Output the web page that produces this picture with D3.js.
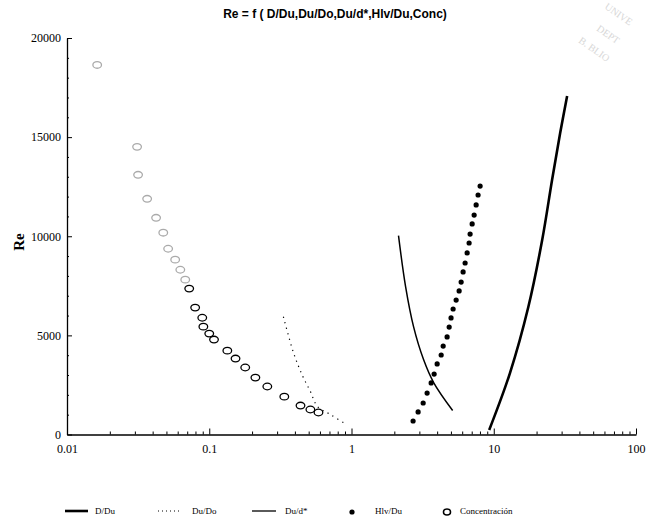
<!DOCTYPE html>
<html>
<head>
<meta charset="utf-8">
<script src="https://cdn.jsdelivr.net/npm/d3@7"></script>
<style>
  body { margin: 0; background: #fff; }
  svg { display: block; }
</style>
</head>
<body>
<div id="chart"></div>
<script>
// series values (x on a log axis, Re linear)
const dDu = [[9.29, 230], [13.0, 3100], [17.5, 6430], [21.9, 9810], [25.7, 12840], [29.3, 15210], [32.8, 17070]];
const duDo = [[0.332, 5940], [0.391, 4130], [0.452, 2970], [0.514, 2170], [0.577, 1410], [0.711, 1010], [0.923, 500]];
const duDstar = [[2.14, 10030], [2.40, 7460], [2.73, 5440], [3.21, 3780], [3.78, 2620], [5.14, 1210]];
const hlvDu = [
  [2.71, 680], [2.94, 1140], [3.19, 1590], [3.40, 2090], [3.63, 2600], [3.81, 3050],
  [4.00, 3560], [4.27, 4010], [4.41, 4460], [4.70, 4920], [4.86, 5420], [5.01, 5880],
  [5.18, 6330], [5.44, 6780], [5.71, 7240], [5.90, 7690], [6.09, 8200], [6.29, 8650],
  [6.50, 9160], [6.71, 9660], [6.82, 10110], [7.05, 10620], [7.28, 11070], [7.52, 11580],
  [7.76, 12080], [8.02, 12530]
];
const conc = [
  [0.0163, 18640], [0.0311, 14510], [0.0316, 13100], [0.0366, 11890], [0.0423, 10930],
  [0.0475, 10180], [0.0514, 9370], [0.0576, 8820], [0.0626, 8310], [0.0678, 7810],
  [0.0723, 7360], [0.0796, 6400], [0.0893, 5890], [0.0909, 5440], [0.100, 5090],
  [0.108, 4790], [0.134, 4230], [0.153, 3830], [0.179, 3380], [0.211, 2870],
  [0.256, 2420], [0.337, 1910], [0.438, 1460], [0.514, 1260], [0.586, 1110]
];

const xTicks = [0.01, 0.1, 1, 10, 100];
const xTickLabels = ["0.01", "0.1", "1", "10", "100"];
const yTicks = [0, 5000, 10000, 15000, 20000];
const yTickLabels = ["0", "5000", "10000", "15000", "20000"];
const legendNames = ["D/Du", "Du/Do", "Du/d*", "Hlv/Du", "Concentración"];
const title = "Re = f ( D/Du,Du/Do,Du/d*,Hlv/Du,Conc)";

const width = 651, height = 529;
const svg = d3.select("#chart").append("svg")
  .attr("width", width).attr("height", height);

const x = d3.scaleLog().domain([0.01, 100]).range([67, 636]);
const y = d3.scaleLinear().domain([0, 20000]).range([434.5, 38]);

const serif = "'Liberation Serif', 'DejaVu Serif', serif";

// title
svg.append("text")
  .attr("x", 335).attr("y", 18)
  .attr("text-anchor", "middle")
  .style("font-family", "'Liberation Sans', sans-serif")
  .style("font-weight", "bold")
  .style("font-size", "12px")
  .text(title);

// y label
svg.append("text")
  .attr("transform", "translate(24,242) rotate(-90)")
  .attr("text-anchor", "middle")
  .style("font-family", serif)
  .style("font-weight", "bold")
  .style("font-size", "15px")
  .text("Re");

// minor x ticks
const minorX = [];
for (let d = 0.01; d < 100; d *= 10) {
  for (let k = 2; k <= 9; k++) minorX.push(d * k);
}
svg.append("g")
  .attr("transform", "translate(0,434.5)")
  .call(d3.axisBottom(x).tickValues(minorX).tickSize(-3).tickFormat(""))
  .call(g => g.select(".domain").remove());

// x axis
svg.append("g")
  .attr("transform", "translate(0,434.5)")
  .call(d3.axisBottom(x).tickValues(xTicks).tickSize(-6).tickSizeOuter(0).tickPadding(10)
    .tickFormat((d, i) => xTickLabels[i]))
  .call(g => g.selectAll("text").style("font-family", serif).style("font-size", "12px"))
  .call(g => g.select(".domain").attr("stroke-width", 1.3));

// minor y ticks
const minorY = d3.range(1000, 20000, 1000).filter(v => v % 5000 !== 0);
svg.append("g")
  .attr("transform", "translate(67,0)")
  .call(d3.axisLeft(y).tickValues(minorY).tickSize(-2).tickFormat(""))
  .call(g => g.select(".domain").remove());

// y axis
svg.append("g")
  .attr("transform", "translate(67,0)")
  .call(d3.axisLeft(y).tickValues(yTicks).tickSize(-5).tickSizeOuter(0).tickPadding(6)
    .tickFormat((d, i) => yTickLabels[i]))
  .call(g => g.selectAll("text").style("font-family", serif).style("font-size", "12px"))
  .call(g => g.select(".domain").attr("stroke-width", 1.3));

const lineNat = d3.line().x(d => x(d[0])).y(d => y(d[1])).curve(d3.curveCatmullRom);

// D/Du thick
svg.append("path").datum(dDu)
  .attr("d", lineNat).attr("fill", "none").attr("stroke", "#000").attr("stroke-width", 2.6);

// Du/Do dotted
svg.append("path").datum(duDo)
  .attr("d", lineNat).attr("fill", "none").attr("stroke", "#000")
  .attr("stroke-width", 1.2).attr("stroke-dasharray", "1.2,4.5");

// Du/d* thin
svg.append("path").datum(duDstar)
  .attr("d", lineNat).attr("fill", "none").attr("stroke", "#000").attr("stroke-width", 1.5);

// Hlv/Du dots
svg.append("g").selectAll("circle").data(hlvDu).join("circle")
  .attr("cx", d => x(d[0])).attr("cy", d => y(d[1]))
  .attr("r", 2.6).attr("fill", "#000");

// Concentracion circles (upper ones faded in the scan)
svg.append("g").selectAll("ellipse").data(conc).join("ellipse")
  .attr("cx", d => x(d[0])).attr("cy", d => y(d[1]))
  .attr("rx", 4.3).attr("ry", 3.3)
  .attr("fill", "none").attr("stroke", (d, i) => i < 10 ? "#aaa" : "#000")
  .attr("stroke-width", 1.3);

// legend
const lg = svg.append("g").style("font-family", serif).style("font-size", "9px");
const ly = 511;
lg.append("line").attr("x1", 65).attr("x2", 88).attr("y1", ly).attr("y2", ly)
  .attr("stroke", "#000").attr("stroke-width", 2.6);
lg.append("line").attr("x1", 158).attr("x2", 181).attr("y1", ly).attr("y2", ly)
  .attr("stroke", "#000").attr("stroke-width", 1).attr("stroke-dasharray", "1,3");
lg.append("line").attr("x1", 252).attr("x2", 276).attr("y1", ly).attr("y2", ly)
  .attr("stroke", "#000").attr("stroke-width", 1.3);
lg.append("circle").attr("cx", 352).attr("cy", ly + 1).attr("r", 2.6).attr("fill", "#000");
lg.append("ellipse").attr("cx", 447).attr("cy", ly + 1).attr("rx", 3.5).attr("ry", 3)
  .attr("fill", "none").attr("stroke", "#000").attr("stroke-width", 1.6);
const lx = [95, 192, 285, 375, 460];
legendNames.forEach((n, i) => {
  lg.append("text").attr("x", lx[i]).attr("y", ly + 3).text(n);
});

// faint stamp in the corner
const stamp = svg.append("g").attr("fill", "#d8d8d8")
  .style("font-family", serif).style("font-size", "10px");
stamp.append("text").attr("transform", "translate(604,8) rotate(35)").text("UNIVE");
stamp.append("text").attr("transform", "translate(596,30) rotate(35)").text("DEPT");
stamp.append("text").attr("transform", "translate(578,42) rotate(35)").text("B. BLIO");
</script>
</body>
</html>
